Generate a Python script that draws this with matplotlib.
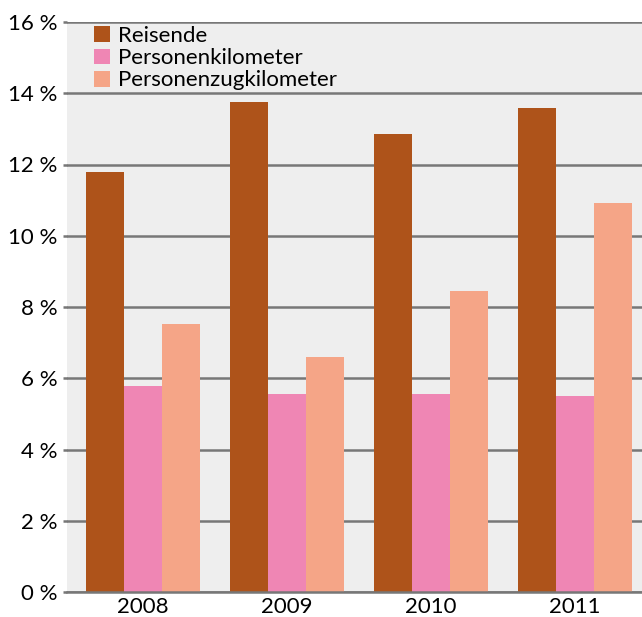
import matplotlib.pyplot as plt
import numpy as np

years = ["2008", "2009", "2010", "2011"]
reisende = [11.8, 13.75, 12.85, 13.6]
personenkilometer = [5.78, 5.56, 5.56, 5.5]
personenzugkilometer = [7.52, 6.6, 8.45, 10.92]
series_names = ["Reisende", "Personenkilometer", "Personenzugkilometer"]
colors = ["#AE531A", "#EF86B4", "#F5A587"]

plt.rcParams["font.family"] = ["Lato", "DejaVu Sans"]

W, H = 642, 617
fig = plt.figure(figsize=(W / 100, H / 100), dpi=100)
ax = fig.add_axes([67 / W, 25 / H, 575 / W, 570 / H])
ax.set_facecolor("#EEEEEE")

x = np.arange(len(years))
width = 0.264
for i, (vals, name, c) in enumerate(zip(
        [reisende, personenkilometer, personenzugkilometer], series_names, colors)):
    ax.bar(x + (i - 1) * width, vals, width, color=c, label=name, zorder=3)

ax.set_ylim(0, 16)
ax.set_yticks(np.arange(0, 17, 2))
ax.set_yticklabels([f"{v} %" for v in range(0, 17, 2)], fontsize=16)
ax.yaxis.grid(True, color="#777777", linewidth=1.8, zorder=1)
ax.set_axisbelow(True)
ax.tick_params(axis="y", length=2.6, width=1.8, color="#777777", pad=4.5)

ax.set_xlim(-0.528, -0.528 + 575 / 144)
ax.set_xticks(x)
ax.set_xticklabels(years, fontsize=16)
ax.tick_params(axis="x", length=0, pad=3.5)

for s in ["top", "right", "left"]:
    ax.spines[s].set_visible(False)
ax.spines["bottom"].set_color("#777777")
ax.spines["bottom"].set_linewidth(1.8)
ax.spines["bottom"].set_zorder(4)

ax.legend(loc="upper left", bbox_to_anchor=(0.047, 0.993), frameon=False,
          fontsize=16, handlelength=0.72, handleheight=0.72, handletextpad=0.36,
          labelspacing=0.1, borderaxespad=0, borderpad=0)

fig.savefig("out.png", dpi=100)
